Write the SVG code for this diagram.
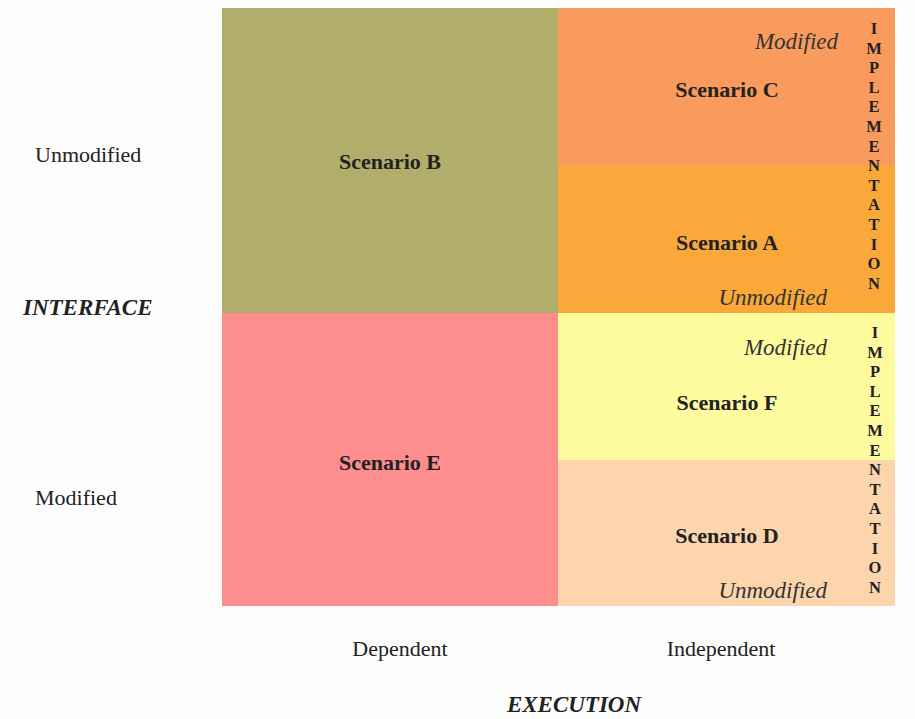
<svg xmlns="http://www.w3.org/2000/svg" width="915" height="719" viewBox="0 0 915 719">
<style>
text{font-family:"Liberation Serif","Times New Roman",serif;fill:#222}
.sc{font-size:22px;font-weight:bold;text-anchor:middle}
.ax{font-size:22px}
.axm{font-size:22px;text-anchor:middle}
.it{font-size:23px;font-style:italic;text-anchor:end;fill:#333}
.ttl{font-size:23px;font-weight:bold;font-style:italic}
.vert{font-size:16.5px;font-weight:bold;text-anchor:middle}
</style>
<rect width="915" height="719" fill="#fdfdfd"/>
<g id="scenarioB"><rect x="222" y="8" width="336" height="305" fill="#b0ae6a"/><text class="sc" x="390" y="169">Scenario B</text></g>
<g id="scenarioE"><rect x="222" y="313" width="336" height="293" fill="#fe8e8e"/><text class="sc" x="390" y="470">Scenario E</text></g>
<g id="scenarioC"><rect x="558" y="8" width="337" height="158" fill="#f99b5c"/><text class="sc" x="727" y="97">Scenario C</text><text class="it" x="838" y="49">Modified</text></g>
<g id="scenarioA"><rect x="558" y="166" width="337" height="147" fill="#fba83a"/><text class="sc" x="727" y="250">Scenario A</text><text class="it" x="827" y="305">Unmodified</text></g>
<g id="scenarioF"><rect x="558" y="313" width="337" height="147" fill="#fefb9e"/><text class="sc" x="727" y="410">Scenario F</text><text class="it" x="827" y="355">Modified</text></g>
<g id="scenarioD"><rect x="558" y="460" width="337" height="146" fill="#fcd5ad"/><text class="sc" x="727" y="543">Scenario D</text><text class="it" x="827" y="598">Unmodified</text></g>
<g id="impl1"><text class="vert">
<tspan x="874" y="34">I</tspan><tspan x="874" y="53.6">M</tspan><tspan x="874" y="73.2">P</tspan><tspan x="874" y="92.8">L</tspan><tspan x="874" y="112.4">E</tspan><tspan x="874" y="132">M</tspan><tspan x="874" y="151.6">E</tspan><tspan x="874" y="171.2">N</tspan><tspan x="874" y="190.8">T</tspan><tspan x="874" y="210.4">A</tspan><tspan x="874" y="230">T</tspan><tspan x="874" y="249.6">I</tspan><tspan x="874" y="269.2">O</tspan><tspan x="874" y="289">N</tspan></text></g>
<g id="impl2"><text class="vert">
<tspan x="875" y="338">I</tspan><tspan x="875" y="357.6">M</tspan><tspan x="875" y="377.2">P</tspan><tspan x="875" y="396.8">L</tspan><tspan x="875" y="416.4">E</tspan><tspan x="875" y="436">M</tspan><tspan x="875" y="455.6">E</tspan><tspan x="875" y="475.2">N</tspan><tspan x="875" y="494.8">T</tspan><tspan x="875" y="514.4">A</tspan><tspan x="875" y="534">T</tspan><tspan x="875" y="553.6">I</tspan><tspan x="875" y="573.2">O</tspan><tspan x="875" y="593">N</tspan></text></g>
<g id="axes">
<text class="ax" x="35" y="162">Unmodified</text>
<text class="ax" x="35" y="505">Modified</text>
<text class="ttl" x="23" y="315">INTERFACE</text>
<text class="axm" x="400" y="656">Dependent</text>
<text class="axm" x="721" y="656">Independent</text>
<text class="ttl" x="574" y="712" text-anchor="middle">EXECUTION</text>
</g>
<g id="connectors"/>
</svg>
